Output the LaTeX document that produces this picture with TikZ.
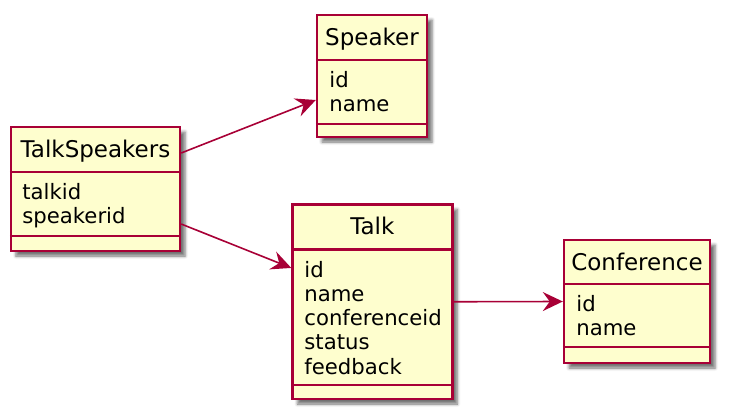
\documentclass[tikz,border=0pt]{standalone}
\usepackage{fontspec}
\setmainfont{DejaVu Sans}
\usetikzlibrary{arrows.meta,shadows.blur}
\definecolor{umlborder}{HTML}{A80036}
\definecolor{umlfill}{HTML}{FEFECE}
\begin{document}
\begin{tikzpicture}[x=0.5pt,y=-0.5pt,
  cls/.style={draw=umlborder,fill=umlfill,line width=1.2pt,inner sep=0pt,
    blur shadow={shadow xshift=2.5pt,shadow yshift=-2.5pt,shadow blur radius=1.5pt,shadow opacity=55}},
  cname/.style={anchor=base,inner sep=0pt,font=\fontsize{11.5}{13}\selectfont},
  cfields/.style={anchor=north west,align=left,inner sep=0pt,font=\fontsize{10.6}{12.15}\selectfont},
  sep/.style={draw=umlborder,line width=1.2pt},
  assoc/.style={draw=umlborder,line width=0.8pt,-{Stealth[length=10pt,width=9.5pt,inset=3.5pt]}}]
\useasboundingbox (0,0) rectangle (729,418);
% TalkSpeakers
\node[cls,minimum width=84.5pt,minimum height=62pt](TS) at (95.5,189){};
\node[cname](TSname) at (95.5,157.3){TalkSpeakers};
\node[cfields](TSfields) at (22,183){talkid\\speakerid};
\draw[sep] (TS.west |- 0,172) -- (TS.east |- 0,172);
\draw[sep] (TS.west |- 0,236) -- (TS.east |- 0,236);
% Speaker
\node[cls,minimum width=55pt,minimum height=61pt](SP) at (372,76){};
\node[cname](SPname) at (372,45){Speaker};
\node[cfields](SPfields) at (329,71){id\\name};
\draw[sep] (SP.west |- 0,60) -- (SP.east |- 0,60);
\draw[sep] (SP.west |- 0,124) -- (SP.east |- 0,124);
% Talk
\node[cls,minimum width=79.9pt,minimum height=97.25pt](TK) at (372.4,301.75){};
\node[cname](TKname) at (372.4,234.5){Talk};
\node[cfields](TKfields) at (304,260.5){id\\name\\conferenceid\\status\\feedback};
\draw[sep] (TK.west |- 0,249.5) -- (TK.east |- 0,249.5);
\draw[sep] (TK.west |- 0,385) -- (TK.east |- 0,385);
% Conference
\node[cls,minimum width=73pt,minimum height=61.5pt](CF) at (637,301.5){};
\node[cname](CFname) at (637,270.5){Conference};
\node[cfields](CFfields) at (576,295){id\\name};
\draw[sep] (CF.west |- 0,284) -- (CF.east |- 0,284);
\draw[sep] (CF.west |- 0,347) -- (CF.east |- 0,347);
% associations
\draw[assoc] ([yshift=18pt]TS.east) -- ([yshift=-12pt]SP.west);
\draw[assoc] ([yshift=-17.5pt]TS.east) -- ([yshift=16.9pt]TK.west);
\draw[assoc] (TK.east) -- (CF.west);
\end{tikzpicture}
\end{document}
